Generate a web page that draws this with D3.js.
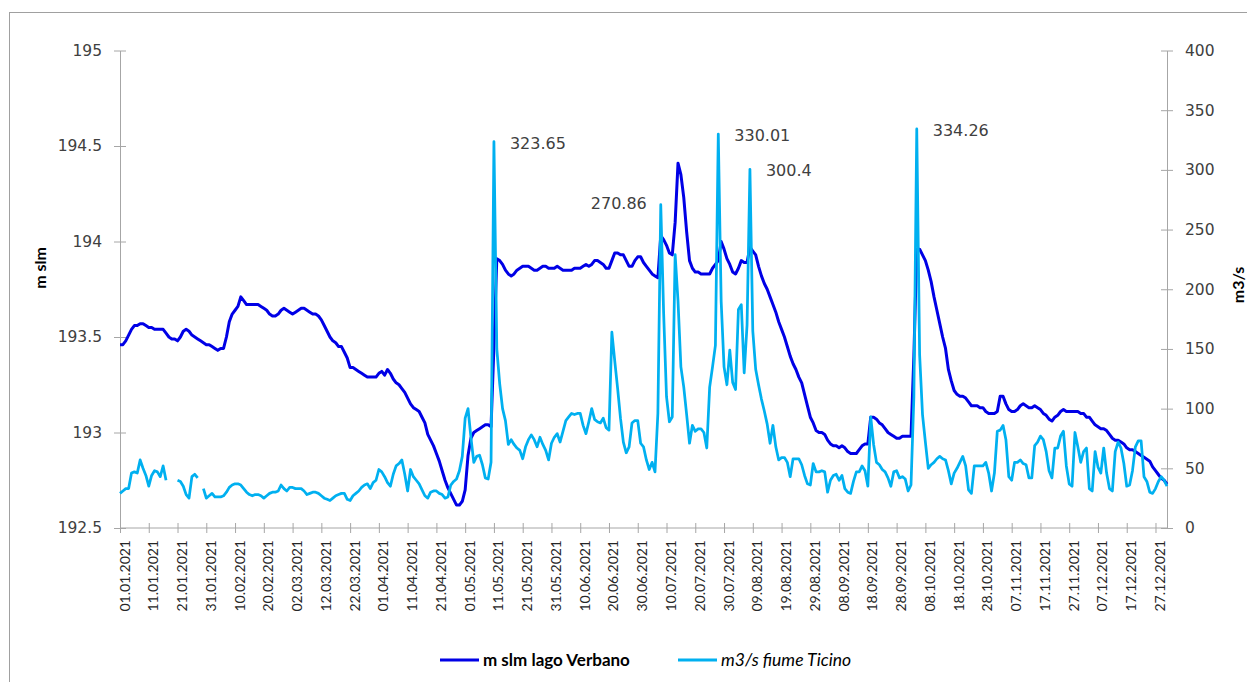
<!DOCTYPE html>
<html>
<head>
<meta charset="utf-8">
<script src="https://cdn.jsdelivr.net/npm/d3@7"></script>
<style>
  body { margin: 0; background: #fff; }
  svg { display: block; }
</style>
</head>
<body>
<svg id="chart" width="1247" height="682"></svg>
<script>
// Daily readings for 2021, one array per month.
const firstDay = "2021-01-01";

// Lake Maggiore (Verbano) level, m s.l.m.
const lakeJan = [193.46,193.46,193.48,193.51,193.54,193.56,193.56,193.57,193.57,193.56,193.55,193.55,193.54,193.54,193.54,193.54,193.52,193.50,193.49,193.49,193.48,193.50,193.53,193.54,193.53,193.51,193.50,193.49,193.48,193.47,193.46];
const lakeFeb = [193.46,193.45,193.44,193.43,193.44,193.44,193.50,193.58,193.62,193.64,193.66,193.71,193.69,193.67,193.67,193.67,193.67,193.67,193.66,193.65,193.64,193.62,193.61,193.61,193.62,193.64,193.65,193.64];
const lakeMar = [193.63,193.62,193.63,193.64,193.65,193.65,193.64,193.63,193.62,193.62,193.61,193.59,193.56,193.53,193.50,193.48,193.47,193.45,193.45,193.42,193.39,193.34,193.34,193.33,193.32,193.31,193.30,193.29,193.29,193.29,193.29];
const lakeApr = [193.31,193.32,193.30,193.33,193.31,193.28,193.26,193.25,193.23,193.21,193.18,193.15,193.13,193.12,193.11,193.08,193.05,192.99,192.96,192.93,192.89,192.85,192.80,192.75,192.71,192.68,192.65,192.62,192.62,192.64];
const lakeMay = [192.70,192.88,192.97,193.00,193.01,193.02,193.03,193.04,193.04,193.03,193.45,193.91,193.90,193.88,193.85,193.83,193.82,193.83,193.85,193.86,193.87,193.87,193.87,193.86,193.85,193.85,193.86,193.87,193.87,193.86,193.86];
const lakeJun = [193.86,193.87,193.86,193.85,193.85,193.85,193.85,193.86,193.86,193.86,193.87,193.88,193.87,193.88,193.90,193.90,193.89,193.88,193.86,193.86,193.90,193.94,193.94,193.93,193.93,193.90,193.87,193.87,193.90,193.92];
const lakeJul = [193.92,193.89,193.87,193.85,193.83,193.82,193.81,194.03,194.01,193.98,193.94,193.93,194.10,194.41,194.35,194.23,194.05,193.90,193.86,193.84,193.84,193.83,193.83,193.83,193.83,193.86,193.88,193.90,194.00,193.96,193.91];
const lakeAug = [193.88,193.84,193.83,193.86,193.90,193.89,193.89,193.97,193.95,193.93,193.87,193.82,193.78,193.75,193.71,193.67,193.63,193.58,193.54,193.50,193.45,193.40,193.36,193.33,193.29,193.26,193.20,193.14,193.08,193.05,193.01];
const lakeSep = [193.00,193.00,192.99,192.96,192.94,192.93,192.93,192.92,192.93,192.92,192.90,192.89,192.89,192.89,192.91,192.93,192.94,192.94,193.08,193.08,193.07,193.05,193.04,193.02,193.00,192.99,192.98,192.97,192.97,192.98];
const lakeOct = [192.98,192.98,192.98,193.40,193.96,193.96,193.93,193.90,193.85,193.79,193.71,193.64,193.57,193.50,193.44,193.33,193.27,193.22,193.20,193.19,193.19,193.18,193.16,193.14,193.14,193.14,193.13,193.13,193.11,193.10,193.10];
const lakeNov = [193.10,193.11,193.19,193.19,193.15,193.12,193.11,193.11,193.12,193.14,193.15,193.14,193.13,193.13,193.14,193.13,193.12,193.10,193.09,193.07,193.06,193.08,193.09,193.11,193.12,193.11,193.11,193.11,193.11,193.11];
const lakeDec = [193.10,193.10,193.08,193.08,193.06,193.04,193.03,193.02,193.02,193.01,192.99,192.97,192.96,192.96,192.95,192.94,192.92,192.91,192.91,192.90,192.89,192.88,192.87,192.86,192.85,192.82,192.80,192.78,192.76,192.75,192.73];

// Ticino river discharge, m3/s (null = no reading)
const flowJan = [29,31,33,33,46,47,46,57,50,44,35,44,48,47,43,52,40,null,null,null,40,39,35,28,25,43,45,42,null,33,25];
const flowFeb = [27,29,26,26,26,27,30,34,36,37,37,36,33,30,28,27,28,28,27,25,27,29,30,30,31,36,33,31];
const flowMar = [34,34,33,33,33,31,28,29,30,30,29,27,25,24,23,25,27,28,29,29,24,23,27,29,31,34,36,37,33,38,40];
const flowApr = [49,47,43,38,35,45,52,54,57,45,31,49,43,40,37,32,27,25,30,31,31,29,28,25,26,36,39,41,48,60];
const flowMay = [92,100,76,55,60,61,53,42,41,55,323.65,150,121,100,90,70,74,70,67,65,58,68,74,78,74,68,76,70,65,57,71];
const flowJun = [76,79,72,81,90,93,96,95,96,96,86,79,89,100,91,89,88,92,84,82,164,140,117,92,72,63,68,88,90,90];
const flowJul = [71,68,57,49,55,47,96,270.86,180,110,89,93,229,190,135,118,95,71,86,81,83,83,80,67,118,135,153,330.01,190,135,120];
const flowAug = [149,122,116,183,187,130,170,300.4,165,133,120,108,98,87,71,86,68,57,59,59,55,43,58,58,58,53,44,37,36,54,47];
const flowSep = [47,48,47,30,40,44,45,40,44,33,30,29,39,47,47,52,48,35,93,70,55,53,49,47,42,35,47,48,42,43];
const flowOct = [41,31,36,110,334.26,145,95,72,50,53,55,58,60,58,57,48,37,46,50,55,60,52,32,29,52,52,52,52,55,46,31];
const flowNov = [46,81,82,86,74,43,40,55,55,57,54,53,42,42,69,72,77,74,64,48,42,67,67,77,81,52,37,35,80,68];
const flowDec = [55,64,67,33,31,64,51,46,67,46,33,31,64,72,67,54,35,36,48,68,73,73,43,39,30,29,33,39,43,40,35];

// Flood peaks that carry a value label, and the side the label sits on
const peakDates = ["2021-05-11", "2021-07-08", "2021-07-28", "2021-08-08", "2021-10-05"];
const peakSides = ["right", "left", "right", "right", "right"];

const levelTicks = [192.5, 193, 193.5, 194, 194.5, 195];
const flowTicks = [0, 50, 100, 150, 200, 250, 300, 350, 400];
const tickEveryDays = 10;

const seriesNames = ["m slm lago Verbano", "m3/s fiume Ticino"];
const colors = { lake: "#0000e6", flow: "#00b0f0" };

// ---------------------------------------------------------------
const lake = [lakeJan, lakeFeb, lakeMar, lakeApr, lakeMay, lakeJun, lakeJul, lakeAug, lakeSep, lakeOct, lakeNov, lakeDec].flat();
const flow = [flowJan, flowFeb, flowMar, flowApr, flowMay, flowJun, flowJul, flowAug, flowSep, flowOct, flowNov, flowDec].flat();
const t0 = new Date(firstDay + "T00:00:00Z");
const days = d3.utcDay.range(t0, d3.utcDay.offset(t0, lake.length));
const lakeData = days.map((d, i) => ({ date: d, v: lake[i] }));
const flowData = days.map((d, i) => ({ date: d, v: flow[i] }));

const svg = d3.select("#chart");
const plot = { left: 120, right: 1167, top: 50.5, bottom: 528 };

// outer frame
svg.append("rect")
  .attr("x", 9.5).attr("y", 12.5).attr("width", 1260).attr("height", 700)
  .attr("fill", "none").attr("stroke", "#a0a0a0").attr("stroke-width", 1);

const x = d3.scaleUtc().domain([days[0], days[days.length - 1]]).range([plot.left, plot.right]);
const yL = d3.scaleLinear().domain([192.5, 195]).range([plot.bottom, plot.top]);
const yR = d3.scaleLinear().domain([0, 400]).range([plot.bottom, plot.top]);

const axisColor = "#a6a6a6";
const numFont = "'DejaVu Sans', Verdana, sans-serif";
const textFont = "Lato, 'Open Sans', sans-serif";

function styleAxis(g) {
  g.select(".domain").attr("stroke", axisColor);
  g.selectAll(".tick line").attr("stroke", axisColor);
}

// left axis
const gL = svg.append("g").attr("transform", `translate(${plot.left},0)`)
  .call(d3.axisLeft(yL).tickValues(levelTicks).tickFormat(d => String(d)).tickSizeInner(6).tickSizeOuter(0).tickPadding(12));
styleAxis(gL);
gL.selectAll(".tick line").attr("x1", 6);
gL.selectAll(".tick text").attr("font-family", numFont).attr("font-size", 15.5).attr("fill", "#404040");

// right axis
const gR = svg.append("g").attr("transform", `translate(${plot.right},0)`)
  .call(d3.axisRight(yR).tickValues(flowTicks).tickSizeInner(6).tickSizeOuter(0).tickPadding(12));
styleAxis(gR);
gR.selectAll(".tick line").attr("x1", -6);
gR.selectAll(".tick text").attr("font-family", numFont).attr("font-size", 15.5).attr("fill", "#404040");

// date axis
const fmt = d3.utcFormat("%d.%m.%Y");
const dateTicks = d3.utcDay.range(days[0], d3.utcDay.offset(days[days.length - 1], 1), tickEveryDays);
const gX = svg.append("g").attr("transform", `translate(0,${plot.bottom})`)
  .call(d3.axisBottom(x).tickValues(dateTicks).tickFormat(fmt).tickSizeInner(5).tickSizeOuter(0));
styleAxis(gX);
gX.select(".domain").attr("d", `M${plot.left},0H${plot.right}`);
gX.selectAll(".tick line").attr("y1", -5);
gX.selectAll(".tick text")
  .attr("font-family", textFont).attr("font-size", 14).attr("fill", "#262626")
  .attr("text-anchor", "end")
  .attr("transform", "rotate(-90)")
  .attr("x", -12).attr("y", 0).attr("dy", 9);

// axis titles
svg.append("text")
  .attr("transform", "translate(46,268) rotate(-90)")
  .attr("text-anchor", "middle")
  .attr("font-family", textFont).attr("font-weight", "bold").attr("font-size", 16).attr("fill", "#000")
  .text("m slm");
svg.append("text")
  .attr("transform", "translate(1244,285) rotate(-90)")
  .attr("text-anchor", "middle")
  .attr("font-family", textFont).attr("font-weight", "bold").attr("font-size", 16).attr("fill", "#000")
  .text("m3/s");

// series lines
const lakeLine = d3.line().defined(d => d.v != null).x(d => x(d.date)).y(d => yL(d.v));
const flowLine = d3.line().defined(d => d.v != null).x(d => x(d.date)).y(d => yR(d.v));

svg.append("path").datum(lakeData)
  .attr("fill", "none").attr("stroke", colors.lake).attr("stroke-width", 3)
  .attr("stroke-linejoin", "round").attr("d", lakeLine);
svg.append("path").datum(flowData)
  .attr("fill", "none").attr("stroke", colors.flow).attr("stroke-width", 2.75)
  .attr("stroke-linejoin", "round").attr("d", flowLine);

// peak value labels
peakDates.forEach((ds, k) => {
  const d = new Date(ds + "T00:00:00Z");
  const pt = flowData.find(p => +p.date === +d);
  const px = x(pt.date), py = yR(pt.v);
  const right = peakSides[k] === "right";
  svg.append("text")
    .attr("x", right ? px + 16 : px - 14)
    .attr("y", py + (right ? 7 : 4))
    .attr("text-anchor", right ? "start" : "end")
    .attr("font-family", numFont).attr("font-size", 16).attr("fill", "#404040")
    .text(String(pt.v));
});

// legend
const legend = [
  { name: seriesNames[0], color: colors.lake, x: 440, weight: "bold", style: "normal", size: 17 },
  { name: seriesNames[1], color: colors.flow, x: 678, weight: "normal", style: "italic", size: 17.5 }
];
legend.forEach(l => {
  svg.append("line").attr("x1", l.x).attr("x2", l.x + 39).attr("y1", 660).attr("y2", 660)
    .attr("stroke", l.color).attr("stroke-width", 3);
  svg.append("text").attr("x", l.x + 43).attr("y", 665.5)
    .attr("font-family", textFont).attr("font-size", l.size)
    .attr("font-weight", l.weight).attr("font-style", l.style).attr("fill", "#000")
    .text(l.name);
});
</script>
</body>
</html>
